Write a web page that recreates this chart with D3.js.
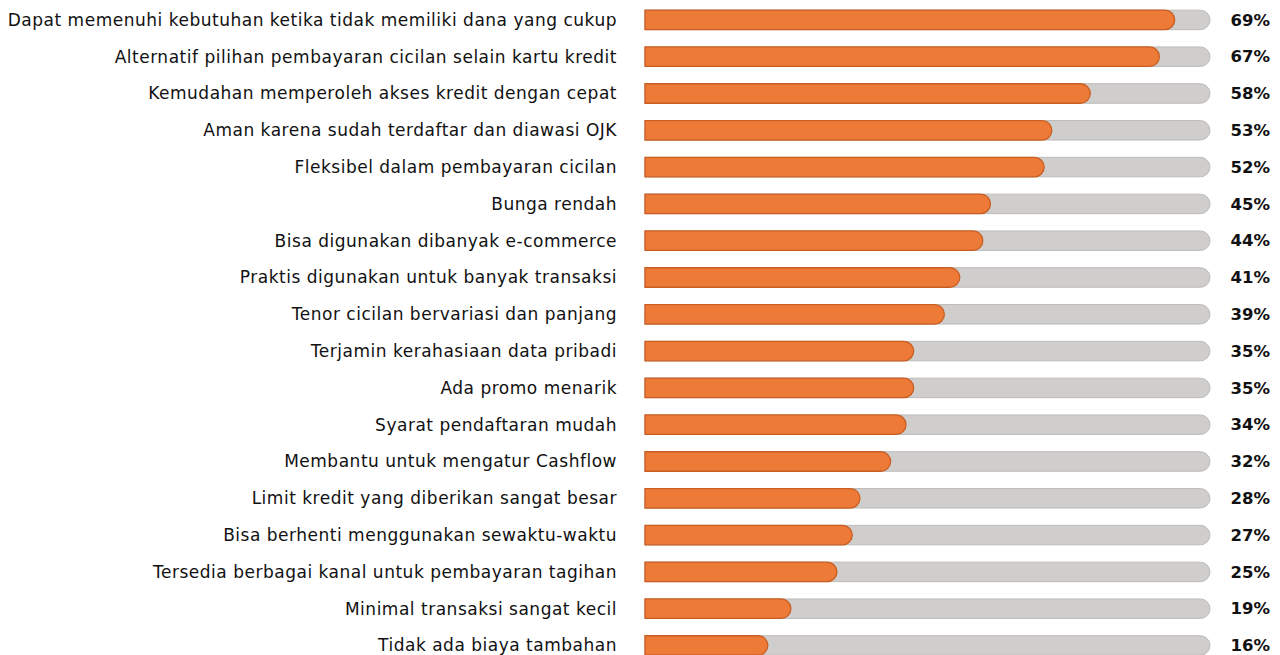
<!DOCTYPE html>
<html><head><meta charset="utf-8">
<script src="https://cdn.jsdelivr.net/npm/d3@7"></script>
<style>body{margin:0;background:#fff}svg{display:block}</style>
</head><body>
<script>
const categories = [
  "Dapat memenuhi kebutuhan ketika tidak memiliki dana yang cukup",
  "Alternatif pilihan pembayaran cicilan selain kartu kredit",
  "Kemudahan memperoleh akses kredit dengan cepat",
  "Aman karena sudah terdaftar dan diawasi OJK",
  "Fleksibel dalam pembayaran cicilan",
  "Bunga rendah",
  "Bisa digunakan dibanyak e-commerce",
  "Praktis digunakan untuk banyak transaksi",
  "Tenor cicilan bervariasi dan panjang",
  "Terjamin kerahasiaan data pribadi",
  "Ada promo menarik",
  "Syarat pendaftaran mudah",
  "Membantu untuk mengatur Cashflow",
  "Limit kredit yang diberikan sangat besar",
  "Bisa berhenti menggunakan sewaktu-waktu",
  "Tersedia berbagai kanal untuk pembayaran tagihan",
  "Minimal transaksi sangat kecil",
  "Tidak ada biaya tambahan"
];
const values = [69, 67, 58, 53, 52, 45, 44, 41, 39, 35, 35, 34, 32, 28, 27, 25, 19, 16];
const trackMax = 73.6;

const W = 1280, H = 655;
const svg = d3.select("body").append("svg").attr("width", W).attr("height", H);

const x = d3.scaleLinear().domain([0, trackMax]).range([645, 1210]);
const y = d3.scaleBand().domain(categories).range([1.5, 1.5 + 36.8 * 18]).paddingInner(0.47).paddingOuter(0.235);
const bh = y.bandwidth();

function roundRight(x0, x1, yTop, h) {
  const r = h / 2;
  const xe = Math.max(x0, x1 - r);
  return `M${x0},${yTop} L${xe},${yTop} A${r},${r} 0 0 1 ${xe},${yTop + h} L${x0},${yTop + h} Z`;
}

const g = svg.append("g");
const rows = g.selectAll("g.row").data(categories).join("g").attr("class", "row");

rows.append("path")
  .attr("d", d => roundRight(x(0), x(trackMax), y(d), bh))
  .attr("fill", "#d0cecd").attr("stroke", "#bdbbba").attr("stroke-width", 1);

rows.append("path")
  .attr("d", (d, i) => roundRight(x(0), x(values[i]), y(d), bh))
  .attr("fill", "#ee7a38").attr("stroke", "#c95e22").attr("stroke-width", 1.3);

const labels = rows.append("text")
  .attr("x", 617).attr("y", d => y(d) + bh / 2)
  .attr("dy", "0.35em").attr("text-anchor", "end")
  .attr("font-family", "'DejaVu Sans', sans-serif").attr("font-size", 17)
  .attr("fill", "#111").text(d => d);

// fit the longest label to the reference width (about 609px)
const first = labels.nodes()[0];
const w0 = first.getComputedTextLength();
const ls = Math.max(0, (609 - w0) / categories[0].length);
labels.attr("letter-spacing", ls.toFixed(2) + "px");

rows.append("text")
  .attr("x", 1270).attr("y", d => y(d) + bh / 2)
  .attr("dy", "0.35em").attr("text-anchor", "end")
  .attr("font-family", "'DejaVu Sans', sans-serif").attr("font-size", 16.5).attr("font-weight", 700)
  .attr("fill", "#111").text((d, i) => values[i] + "%");
</script>
</body></html>
